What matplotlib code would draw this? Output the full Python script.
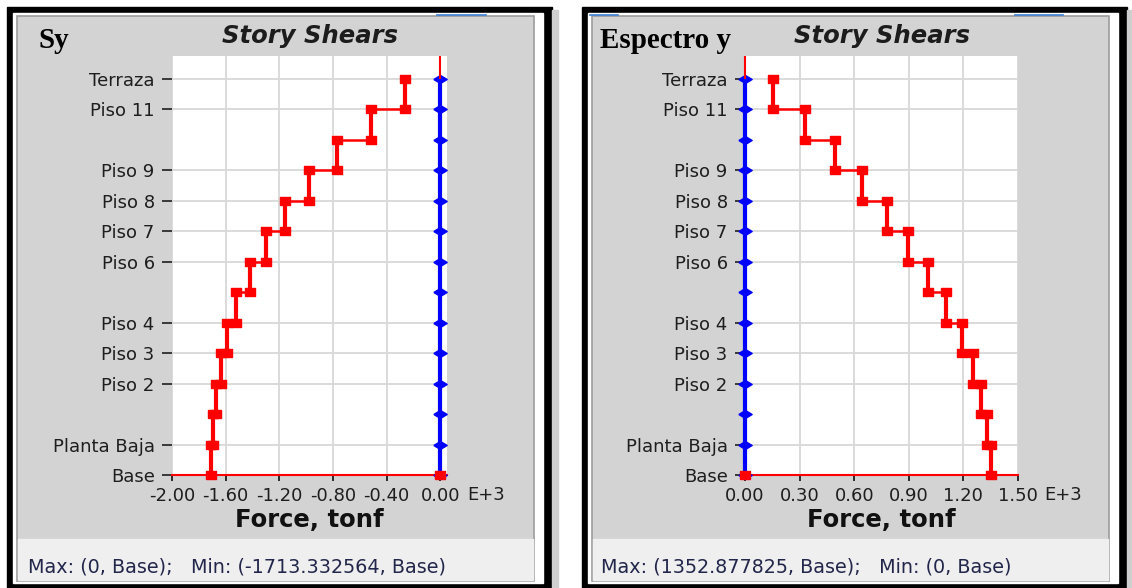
import matplotlib
matplotlib.use("Agg")
import matplotlib.pyplot as plt
from matplotlib.patches import Rectangle

# niveles de abajo hacia arriba; "" = nivel sin etiqueta
niveles = ["Base", "Planta Baja", "Piso 1", "Piso 2", "Piso 3", "Piso 4", "Piso 5",
           "Piso 6", "Piso 7", "Piso 8", "Piso 9", "Piso 10", "Piso 11", "Terraza"]
etiquetas = ["Base", "Planta Baja", "", "Piso 2", "Piso 3", "Piso 4", "",
             "Piso 6", "Piso 7", "Piso 8", "Piso 9", "", "Piso 11", "Terraza"]

# cortante por piso (E+3 tonf), de Terraza hacia Base
cortante_sy = [-0.26, -0.52, -0.77, -0.98, -1.16, -1.30, -1.42, -1.52, -1.59,
               -1.635, -1.675, -1.695, -1.713]
cortante_esp = [0.155, 0.33, 0.495, 0.645, 0.78, 0.895, 1.005, 1.105, 1.19,
                1.25, 1.295, 1.33, 1.353]
# cortante en X (nulo), por nivel
cortante_x = [0.0, 0.0, 0.0, 0.0, 0.0, 0.0, 0.0, 0.0, 0.0, 0.0, 0.0, 0.0, 0.0, 0.0]

ticks_sy = [-2.0, -1.6, -1.2, -0.8, -0.4, 0.0]
ticks_esp = [0.0, 0.3, 0.6, 0.9, 1.2, 1.5]

titulo = "Story Shears"
xlabel = "Force, tonf"
resumen_sy = "Max: (0, Base);   Min: (-1713.332564, Base)"
resumen_esp = "Max: (1352.877825, Base);   Min: (0, Base)"

plt.rcParams["font.family"] = "DejaVu Sans"
plt.rcParams["axes.unicode_minus"] = False

W, H = 1132, 588
fig = plt.figure(figsize=(W / 100, H / 100), dpi=100)
fig.patch.set_facecolor("white")

# fondo en pixeles (marcos de la ventana)
bg = fig.add_axes([0, 0, 1, 1])
bg.set_xlim(0, W)
bg.set_ylim(H, 0)
bg.axis("off")


def marco(x0, x1):
    bg.add_patch(Rectangle((x0, 7), x1 - x0, 590, color="black"))
    bg.add_patch(Rectangle((x1, 10), 6, 590, color="#cfcfcf"))
    bg.add_patch(Rectangle((x0 + 6, 13), x1 - x0 - 15, 570, color="white"))
    bg.add_patch(Rectangle((x0 + 10, 16), x1 - x0 - 28, 565, facecolor="#d3d3d3",
                           edgecolor="#9c9c9c", lw=1.2))
    bg.add_patch(Rectangle((x0 + 11, 539), x1 - x0 - 30, 41, color="#efefef"))


marco(7, 552)
marco(582, 1127)
bg.plot([437, 486], [15, 15], color="#3d7fd6", lw=1.2)
bg.plot([590, 618], [15, 15], color="#3d7fd6", lw=1.2)
bg.plot([1015, 1063], [15, 15], color="#3d7fd6", lw=1.2)

bg.text(39, 48, "Sy", fontfamily="Liberation Serif", fontweight="bold", fontsize=21)
bg.text(600, 48, "Espectro y", fontfamily="Liberation Serif", fontweight="bold", fontsize=21)
bg.text(28, 567, resumen_sy, fontsize=13.8, color="#22264a", va="center")
bg.text(601, 567, resumen_esp, fontsize=13.8, color="#22264a", va="center")
bg.text(467, 495, "E+3", fontsize=13, color="#1e1e1e", va="center")
bg.text(1044, 495, "E+3", fontsize=13, color="#1e1e1e", va="center")

m_cuadro = [(-1.3, -1), (1.3, -1), (1.3, 1), (-1.3, 1), (-1.3, -1)]
m_rombo = [(-1.65, 0), (0, 1), (1.65, 0), (0, -1), (-1.65, 0)]
ytop = 13.75


def panel(pos, cortante, ticks, xlim):
    ax = fig.add_axes(pos)
    ax.set_facecolor("white")
    ax.set_xlim(*xlim)
    ax.set_ylim(0, ytop)
    ax.set_axisbelow(True)

    idx = [i for i, e in enumerate(etiquetas) if e]
    ax.set_yticks(idx)
    ax.set_yticklabels([etiquetas[i] for i in idx])
    ax.set_xticks(ticks)
    ax.set_xticklabels(["%.2f" % t for t in ticks])
    ax.grid(True, color="#d8d8d8", lw=1.3)
    ax.tick_params(axis="y", length=7.5, width=1.2, pad=5, labelsize=13,
                   colors="#1e1e1e")
    ax.tick_params(axis="x", length=4.5, width=1.3, pad=4, labelsize=13,
                   colors="#1e1e1e")
    for s in ["left", "right", "top"]:
        ax.spines[s].set_visible(False)
    ax.spines["bottom"].set_color("red")
    ax.spines["bottom"].set_linewidth(1.5)

    # cortante en X (azul)
    niv = list(range(len(niveles)))
    ax.plot(cortante_x, niv, color="blue", lw=3, marker=m_rombo, ms=9.6,
            zorder=3, clip_on=False)

    # cortante en Y (rojo, escalonado)
    n = len(cortante)
    y_sup = [len(niveles) - 1 - i for i in range(n)]
    y_inf = [y - 1 for y in y_sup]
    ax.vlines(cortante, y_inf, y_sup, color="red", lw=3, zorder=4)
    ax.hlines(y_inf[:-1], cortante[:-1], cortante[1:], color="red", lw=1.8, zorder=4)
    ax.vlines(cortante_x[-1], len(niveles) - 1, ytop, color="red", lw=1.5,
              zorder=4, clip_on=False)
    ax.plot(cortante + cortante + [cortante_x[0]], y_sup + y_inf + [0], ls="none",
            marker=m_cuadro, ms=7.4, color="red", zorder=5, clip_on=False)

    ax.set_title(titulo, fontsize=17.5, fontweight="bold", fontstyle="italic",
                 color="#1c1c1c", y=(475 - 36) / 419, va="center", pad=0)
    ax.set_xlabel(xlabel, fontsize=17.5, fontweight="bold", color="#111111",
                  va="center")
    ax.xaxis.set_label_coords(0.5, -(520 - 475) / 419)
    return ax


panel([172 / W, 113 / H, 275 / W, 419 / H], cortante_sy, ticks_sy, (-2.0, 0.05))
panel([745 / W, 113 / H, 273 / W, 419 / H], cortante_esp, ticks_esp, (0.0, 1.5))

fig.savefig("out.png", dpi=100)
